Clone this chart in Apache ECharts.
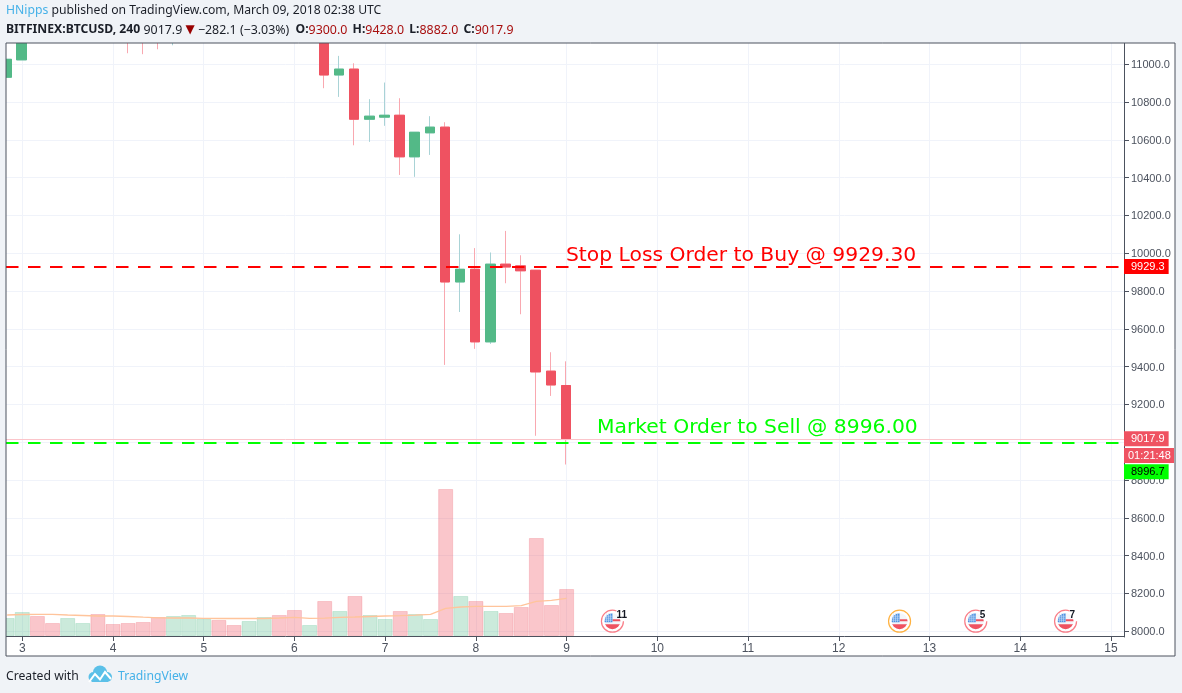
<!DOCTYPE html>
<html>
<head>
<meta charset="utf-8">
<title>BITFINEX:BTCUSD 240</title>
<style>
html,body{margin:0;padding:0;background:#f0f3f7;overflow:hidden}
#chart{width:1182px;height:693px}
</style>
<script src="https://cdn.jsdelivr.net/npm/echarts@6/dist/echarts.min.js"></script>
</head>
<body>
<div id="chart"></div>
<script>
// Four-hour bars, six per day, position given in fractional days of March 2018.
const barStep = 1 / 6;
const firstBarDay = 3 - barStep;
// Candles sit a hair left of their volume bars, as on the source platform.
const candleLead = 0.008;

// [open, close, low, high]; bars above the visible range are kept as rough levels.
const ohlc = [
  [10931, 11026, 10931, 11026],
  [11023, 11180, 11023, 11240],
  [11180, 11140, 11125, 11230],
  [11140, 11125, 11125, 11190],
  [11125, 11160, 11125, 11200],
  [11160, 11190, 11130, 11240],
  [11190, 11150, 11125, 11210],
  [11150, 11135, 11125, 11180],
  [11190, 11135, 11058, 11210],
  [11135, 11120, 11053, 11170],
  [11150, 11125, 11079, 11170],
  [11125, 11160, 11100, 11200],
  [11160, 11220, 11130, 11260],
  [11220, 11270, 11190, 11310],
  [11270, 11230, 11200, 11300],
  [11230, 11195, 11170, 11260],
  [11195, 11225, 11160, 11260],
  [11225, 11280, 11190, 11320],
  [11280, 11230, 11200, 11300],
  [11230, 11170, 11140, 11260],
  [11170, 11190, 11130, 11240],
  [11190, 10943, 10873, 11210],
  [10943, 10974, 10827, 11044],
  [10974, 10709, 10571, 11005],
  [10709, 10725, 10589, 10815],
  [10720, 10730, 10674, 10903],
  [10730, 10510, 10414, 10820],
  [10510, 10640, 10404, 10640],
  [10637, 10667, 10520, 10725],
  [10667, 9848, 9409, 10693],
  [9848, 9915, 9689, 10100],
  [9915, 9531, 9494, 10027],
  [9531, 9942, 9520, 10004],
  [9942, 9927, 9841, 10118],
  [9933, 9907, 9677, 9989],
  [9910, 9372, 9034, 9910],
  [9376, 9303, 9245, 9476],
  [9300, 9017.9, 8882, 9428]
];

// Traded volume per bar, and its moving average.
const volumes = [18, 24, 20, 13, 18, 13, 22, 12, 13, 14, 19, 20, 21, 17, 16, 11, 15, 19, 21, 26,
  11, 35, 25, 40, 21, 17, 25, 22, 17, 147, 40, 35, 25, 23, 29, 98, 31, 47];
const volumeAverage = [21, 21.5, 21.6, 21.6, 21, 20.5, 20, 20, 19.5, 18.8, 18.2, 18, 18, 17.7, 17.5, 17.5, 17.5, 17.5, 18, 18.6,
  17.6, 17.8, 18.6, 19, 19.5, 20, 20.3, 20.8, 21.6, 27.6, 29, 29.6, 29.6, 29.6, 30.3, 34.6, 35.6, 37.6];

const dayTicks = [3, 4, 5, 6, 7, 8, 9, 10, 11, 12, 13, 14, 15];
const priceTicks = [8000, 8200, 8400, 8600, 8800, 9000, 9200, 9400, 9600, 9800, 10000, 10200, 10400, 10600, 10800, 11000];

const stopLossPrice = 9929.3;
const marketSellPrice = 8996.7;
const lastPrice = 9017.9;

// Economic calendar markers: day, event count (0 when unnumbered), ring colour.
const eventDays = [9.505, 12.67, 13.51, 14.5];
const eventCounts = [11, 0, 5, 7];
const eventRings = ['#f7525f', '#ff9800', '#f7525f', '#f7525f'];
const eventLevel = 8053;

const upColor = '#53b987';
const downColor = '#ef5261';
const upWick = '#a9d3d6';
const downWick = '#f9a8b0';
const inkColor = '#4c525e';
const pageColor = '#f0f3f7';
const axisFont = '"Liberation Sans", Arial, sans-serif';
const headFont = '"Noto Sans", sans-serif';

const dayOf = i => firstBarDay + i * barStep;
const isUp = i => ohlc[i][1] >= ohlc[i][0];

const wickData = ohlc.map((d, i) => [dayOf(i) - candleLead, d[0], d[1], d[2], d[3]]);
const bodyData = ohlc.map((d, i) => [dayOf(i) - candleLead, d[0], d[1], Math.min(d[0], d[1]), Math.max(d[0], d[1])]);
const volumeData = volumes.map((v, i) => ({
  value: [dayOf(i), v],
  itemStyle: isUp(i)
    ? { color: 'rgba(83,185,135,0.3)', borderColor: 'rgba(83,185,135,0.22)', borderWidth: 1 }
    : { color: 'rgba(239,82,97,0.33)', borderColor: 'rgba(239,82,97,0.22)', borderWidth: 1 }
}));

// US flag badge with a ring that opens at the upper right when a count is shown.
function drawEvent(params, api) {
  const c = api.coord([api.value(0), api.value(1)]);
  const idx = params.dataIndex;
  const count = eventCounts[idx];
  const cx = c[0], cy = c[1];
  const arcEnd = count ? Math.PI * 1.62 : Math.PI * 2;
  const clip = { type: 'circle', shape: { cx, cy, r: 8 } };
  const children = [
    { type: 'arc', shape: { cx, cy, r: 11, startAngle: 0, endAngle: arcEnd, clockwise: true },
      style: { stroke: eventRings[idx], lineWidth: 1.2, fill: null, opacity: 0.75 } },
    { type: 'circle', shape: { cx, cy, r: 8 }, style: { fill: '#f4f6fa' } },
    { type: 'rect', shape: { x: cx - 9, y: cy + 3, width: 18, height: 6 }, style: { fill: '#ef5261' }, clipPath: clip },
    { type: 'rect', shape: { x: cx, y: cy - 2, width: 9, height: 2 }, style: { fill: '#ef5261' }, clipPath: clip },
    { type: 'rect', shape: { x: cx - 8, y: cy - 8, width: 8, height: 9 }, style: { fill: '#4a90e2' }, clipPath: clip }
  ];
  [-6, -4, -2].forEach(dx => children.push({ type: 'line', shape: { x1: cx + dx, y1: cy - 8, x2: cx + dx, y2: cy + 1 }, style: { stroke: '#cfe1f7', lineWidth: 0.6 } }));
  [-5, -3, -1].forEach(dy => children.push({ type: 'line', shape: { x1: cx - 8, y1: cy + dy, x2: cx, y2: cy + dy }, style: { stroke: '#cfe1f7', lineWidth: 0.6 } }));
  if (count) {
    children.push({ type: 'text', style: { x: cx + 4, y: cy - 11, text: String(count), fill: '#131722', font: 'bold 10px ' + axisFont } });
  }
  return { type: 'group', children };
}

const tag = (bg, fg) => ({
  show: true, position: 'end', distance: 0, color: fg, backgroundColor: bg,
  fontFamily: axisFont, fontSize: 11, padding: [2, 4, 2, 7], lineHeight: 11,
  formatter: p => p.value.toFixed(1)
});

const chart = echarts.init(document.getElementById('chart'), null, { renderer: 'canvas' });
chart.setOption({
  animation: false,
  backgroundColor: pageColor,
  grid: { left: 6, right: 58, top: 43, height: 594, containLabel: false },
  xAxis: {
    type: 'value', min: 2.8204, max: 15.144,
    axisLine: { show: true, lineStyle: { color: inkColor, width: 1 } },
    axisTick: { show: true, length: 5, lineStyle: { color: inkColor }, customValues: dayTicks },
    axisLabel: { color: inkColor, fontFamily: axisFont, fontSize: 12, margin: 6, customValues: dayTicks, formatter: v => String(v) },
    splitLine: { show: true, lineStyle: { color: '#f0f3fa', width: 1 }, customValues: dayTicks }
  },
  yAxis: [
    {
      type: 'value', position: 'right', min: 7969.4, max: 11112.2, scale: true,
      axisLine: { show: true, lineStyle: { color: inkColor, width: 1 } },
      axisTick: { show: true, length: 5, lineStyle: { color: inkColor }, customValues: priceTicks },
      axisLabel: { show: false },
      splitLine: { show: true, lineStyle: { color: '#f0f3fa', width: 1 }, customValues: priceTicks }
    },
    { type: 'value', min: -1, max: 593, show: false, splitLine: { show: false } },
    {
      // Price labels, set a pixel lower than their gridlines.
      type: 'value', position: 'right', min: 7974.7, max: 11117.5, scale: true,
      axisLine: { show: false },
      axisTick: { show: false },
      axisLabel: { color: inkColor, fontFamily: axisFont, fontSize: 11, margin: 7, customValues: priceTicks, formatter: v => v.toFixed(1) },
      splitLine: { show: false }
    }
  ],
  series: [
    {
      name: 'Volume', type: 'bar', yAxisIndex: 1, barWidth: 15, z: 2,
      data: volumeData
    },
    {
      name: 'Volume MA', type: 'line', yAxisIndex: 1, showSymbol: false, z: 3, smooth: false,
      data: volumeAverage.map((v, i) => [dayOf(i), v]),
      lineStyle: { color: '#ffc49b', width: 1.3 }
    },
    {
      name: 'Wicks', type: 'candlestick', barWidth: 10, z: 4, data: wickData,
      itemStyle: { color: upColor, color0: downColor, borderColor: upWick, borderColor0: downWick, borderWidth: 1 },
      markLine: {
        silent: true, symbol: 'none', animation: false, z: 6,
        data: [
          { yAxis: stopLossPrice, lineStyle: { color: '#ff0000', type: [12.5, 9.5], width: 2 }, label: tag('#ff0000', '#ffffff') },
          { yAxis: lastPrice, lineStyle: { color: '#fbc5ca', type: 'solid', width: 1 }, label: tag('#ef5261', '#ffffff') },
          { yAxis: marketSellPrice, lineStyle: { color: '#00ff00', type: [12.5, 9.5], width: 2 }, label: Object.assign(tag('#00ff00', '#000000'), { offset: [0, 29] }) }
        ]
      }
    },
    {
      name: 'Bodies', type: 'candlestick', barWidth: 10, z: 5, data: bodyData,
      itemStyle: { color: upColor, color0: downColor, borderColor: upColor, borderColor0: downColor, borderWidth: 1 }
    },
    {
      name: 'Events', type: 'custom', z: 7, clip: false,
      data: eventDays.map(d => [d, eventLevel]),
      encode: { x: 0, y: 1 },
      renderItem: drawEvent
    }
  ],
  graphic: [
    { type: 'rect', z: -10, shape: { x: 6, y: 43, width: 1169, height: 613 }, style: { fill: '#ffffff' }, silent: true },
    // Page-coloured bands keep out-of-range candles inside the plot frame.
    { type: 'rect', z: 40, shape: { x: 0, y: 0, width: 1182, height: 43 }, style: { fill: pageColor }, silent: true },
    { type: 'rect', z: 40, shape: { x: 0, y: 0, width: 6, height: 693 }, style: { fill: pageColor }, silent: true },
    { type: 'rect', z: 50, shape: { x: 6, y: 43, width: 1169, height: 613 }, style: { fill: null, stroke: inkColor, lineWidth: 1 }, silent: true },
    { type: 'rect', z: 60, shape: { x: 1124, y: 448, width: 50, height: 15 }, style: { fill: '#ef5261' } },
    { type: 'text', z: 61, left: 1128, top: 450, style: { text: '01:21:48', fill: '#ffffff', font: '11px ' + axisFont } },
    { type: 'text', z: 61, left: 566, top: 246, style: { text: 'Stop Loss Order to Buy @ 9929.30', fill: '#ff0000', font: '20.3px "DejaVu Sans"' } },
    { type: 'text', z: 61, left: 597, top: 418, style: { text: 'Market Order to Sell @ 8996.00', fill: '#00ff00', font: '20.3px "DejaVu Sans"' } },
    {
      type: 'text', z: 61, left: 6, top: 4.5,
      style: {
        text: '{n|HNipps} published on TradingView.com, March 09, 2018 02:38 UTC',
        font: '12.2px ' + headFont, fill: '#1b1f28',
        rich: { n: { fill: '#45b1e8', font: '12.2px ' + headFont } }
      }
    },
    {
      type: 'text', z: 61, left: 6, top: 24,
      style: {
        text: '{b|BITFINEX:BTCUSD, 240} 9017.9 {t|▼} −282.1 (−3.03%) {o|O:}{r|9300.0} {b|H:}{r|9428.0} {b|L:}{r|8882.0} {b|C:}{r|9017.9}',
        font: '12.4px ' + headFont, fill: '#1b1f28',
        rich: {
          b: { font: 'bold 12.2px ' + headFont, fill: '#1b1f28' },
          o: { font: 'bold 12.2px ' + headFont, fill: '#1b1f28', padding: [0, 0, 0, 3] },
          r: { font: '12.4px ' + headFont, fill: '#a80f0f', padding: [0, 2, 0, 0] },
          t: { font: '12px "DejaVu Sans"', fill: '#990000' }
        }
      }
    },
    { type: 'text', z: 61, left: 6, top: 671, style: { text: 'Created with', fill: '#1b1f28', font: '12.2px ' + headFont } },
    { type: 'text', z: 61, left: 118, top: 671, style: { text: 'TradingView', fill: '#45b1e8', font: '12.2px ' + headFont } },
    { type: 'circle', z: 61, shape: { cx: 93.5, cy: 677, r: 5 }, style: { fill: '#5bc0e8' } },
    { type: 'circle', z: 61, shape: { cx: 100, cy: 672.5, r: 7 }, style: { fill: '#5bc0e8' } },
    { type: 'circle', z: 61, shape: { cx: 107, cy: 677, r: 5 }, style: { fill: '#5bc0e8' } },
    { type: 'rect', z: 61, shape: { x: 92, y: 675, width: 16, height: 7 }, style: { fill: '#5bc0e8' } },
    {
      type: 'polyline', z: 62,
      shape: { points: [[89,682],[95,674],[100,679.5],[105,672],[111,679]] },
      style: { stroke: '#ffffff', lineWidth: 2, fill: null }
    }
  ]
});
</script>
</body>
</html>
